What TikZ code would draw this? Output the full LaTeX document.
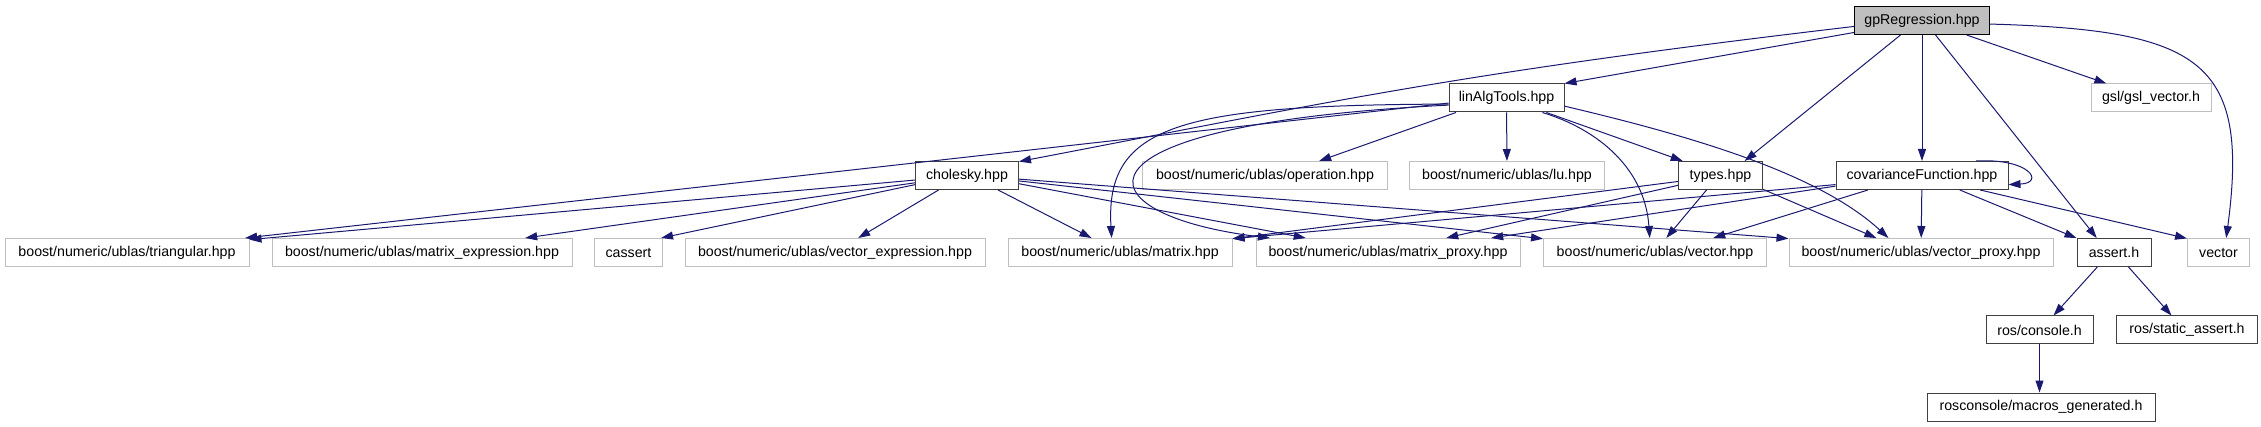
\documentclass[tikz,border=0pt]{standalone}
\usepackage{fontspec}
\setmainfont{Liberation Sans}
\usepackage{xcolor}
\usetikzlibrary{arrows.meta}
\definecolor{edgeblue}{RGB}{25,25,112}
\definecolor{leafgray}{RGB}{191,191,191}
\definecolor{framegray}{RGB}{64,64,64}
\tikzset{
  file/.style={draw=framegray, line width=1pt, fill=white, minimum height=28pt,
    inner sep=0pt, font=\fontsize{14.2}{17}\selectfont},
  leaf/.style={file, draw=leafgray},
  rootfile/.style={file, draw=black, fill=leafgray},
  inc/.style={edgeblue, line width=1pt, -{Triangle[length=12pt,width=8pt]}}
}

\begin{document}
\begin{tikzpicture}[x=1pt, y=-1pt]
  \useasboundingbox (0,0) rectangle (2261,427);
  % files
  \node[rootfile, minimum width=135pt] (gp) at (1922,20.5) {gpRegression.hpp};
  \node[file, minimum width=115pt] (lin) at (1506.5,98) {linAlgTools.hpp};
  \node[leaf, minimum width=120pt] (gsl) at (2151,98) {gsl/gsl\_vector.h};
  \node[file, minimum width=103pt] (chol) at (967,175.5) {cholesky.hpp};
  \node[leaf, minimum width=245pt] (op) at (1265,175.5) {boost/numeric/ublas/operation.hpp};
  \node[leaf, minimum width=195pt] (lu) at (1507,175.5) {boost/numeric/ublas/lu.hpp};
  \node[file, minimum width=84pt] (types) at (1720.5,175.5) {types.hpp};
  \node[file, minimum width=172pt] (cov) at (1922,175.5) {covarianceFunction.hpp};
  \node[leaf, minimum width=244pt] (tri) at (127,252.5) {boost/numeric/ublas/triangular.hpp};
  \node[leaf, minimum width=300pt] (mexp) at (422,252.5) {boost/numeric/ublas/matrix\_expression.hpp};
  \node[leaf, minimum width=68pt] (cassert) at (628.5,252.5) {cassert};
  \node[leaf, minimum width=300pt] (vexp) at (835,252.5) {boost/numeric/ublas/vector\_expression.hpp};
  \node[leaf, minimum width=224pt] (mat) at (1120,252.5) {boost/numeric/ublas/matrix.hpp};
  \node[leaf, minimum width=264pt] (mprox) at (1388,252.5) {boost/numeric/ublas/matrix\_proxy.hpp};
  \node[leaf, minimum width=223pt] (vec) at (1655,252.5) {boost/numeric/ublas/vector.hpp};
  \node[leaf, minimum width=264pt] (vprox) at (1921,252.5) {boost/numeric/ublas/vector\_proxy.hpp};
  \node[file, minimum width=74pt] (assert) at (2114,252.5) {assert.h};
  \node[leaf, minimum width=62pt] (vector) at (2218.5,252.5) {vector};
  \node[file, minimum width=107pt] (console) at (2039.5,330) {ros/console.h};
  \node[file, minimum width=141pt] (sassert) at (2187,330) {ros/static\_assert.h};
  \node[file, minimum width=228pt] (macros) at (2041,407) {rosconsole/macros\_generated.h};

  % gpRegression.hpp
  \draw[inc] (gp.185) .. controls (1450,74) and (1330,102) .. (chol.15);
  \draw[inc] (gp.190) -- (lin.north east);
  \draw[inc] (gp.214) -- (types.31);
  \draw[inc] (gp) -- (cov);
  \draw[inc] (gp.313) -- (assert.140);
  \draw[inc] (gp.342) -- (gsl.162);
  \draw[inc] (gp.357) .. controls (2200,30) and (2250,60) .. (vector.62);

  % linAlgTools.hpp
  \draw[inc] (lin.185) -- (tri.7);
  \draw[inc] (lin.186) .. controls (1180,105) and (1105,125) .. (mat.120);
  \draw[inc] (lin.187) .. controls (1050,125) and (1080,215) .. (mprox.173);
  \draw[inc] (lin.196) -- (op.15);
  \draw[inc] (lin) -- (lu);
  \draw[inc] (lin.340) -- (types.159);
  \draw[inc] (lin.338) .. controls (1600,130) and (1645,170) .. (vec.110);
  \draw[inc] (lin.352) .. controls (1700,138) and (1820,175) .. (vprox.156);

  % cholesky.hpp
  \draw[inc] (chol.185) -- (tri.6);
  \draw[inc] (chol.188) -- (mexp.8);
  \draw[inc] (chol.190) -- (cassert.24);
  \draw[inc] (chol.207) -- (vexp.32);
  \draw[inc] (chol.335) -- (mat.153);
  \draw[inc] (chol.351) -- (mprox.170);
  \draw[inc] (chol.354) -- (vec.173);
  \draw[inc] (chol.356) -- (vprox.174);

  % types.hpp
  \draw[inc] (types.188) -- (mat.7);
  \draw[inc] (types.193) -- (mprox.14);
  \draw[inc] (types.226) -- (vec.52);
  \draw[inc] (types.342) -- (vprox.162);

  % covarianceFunction.hpp
  \draw[inc] (cov.186) -- (mat.7);
  \draw[inc] (cov.187) -- (mprox.8);
  \draw[inc] (cov.195) -- (vec.14);
  \draw[inc] (cov) -- (vprox);
  \draw[inc] (cov.339) -- (assert.159);
  \draw[inc] (cov.346) -- (vector.156);
  \draw[inc] (cov.15) .. controls (2030,158) and (2045,183) .. (cov.354);

  % assert.h
  \draw[inc] (assert.221) -- (console.46);
  \draw[inc] (assert.315) -- (sassert.137);
  \draw[inc] (console) -- (console.south |- macros.north);
\end{tikzpicture}
\end{document}
